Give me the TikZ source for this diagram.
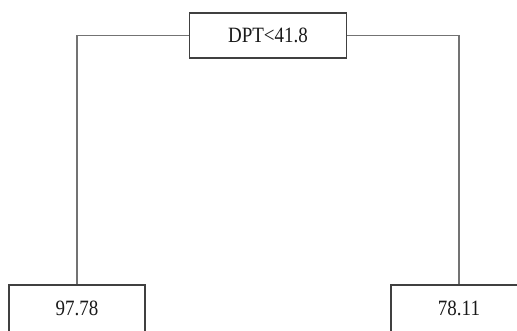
\documentclass[tikz,border=0pt]{standalone}
\usepackage{fontspec}
\setmainfont{Liberation Serif}
\begin{document}
\begin{tikzpicture}[x=1pt,y=-1pt,
  treebox/.style={draw=black!75, line width=1.3pt, minimum width=157pt, minimum height=45pt,
    inner sep=0pt, font=\fontsize{19}{19}\selectfont, text=black!90},
  leafbox/.style={treebox, minimum width=136pt, minimum height=47pt},
  branch/.style={draw=black!55, line width=1.7pt}]
\useasboundingbox (0,0) rectangle (517,331);
\clip (0,0) rectangle (517,331);
\node[treebox] (root) at (268,35.5) {\scalebox{1.0}[1.15]{DPT<41.8}};
\node[leafbox] (left) at (77,308.5) {\scalebox{1.0}[1.15]{97.78}};
\node[leafbox] (right) at (459,308.5) {\scalebox{1.0}[1.15]{78.11}};
\draw[branch] (root.west) -| (left.north);
\draw[branch] (root.east) -| (right.north);
\end{tikzpicture}
\end{document}
